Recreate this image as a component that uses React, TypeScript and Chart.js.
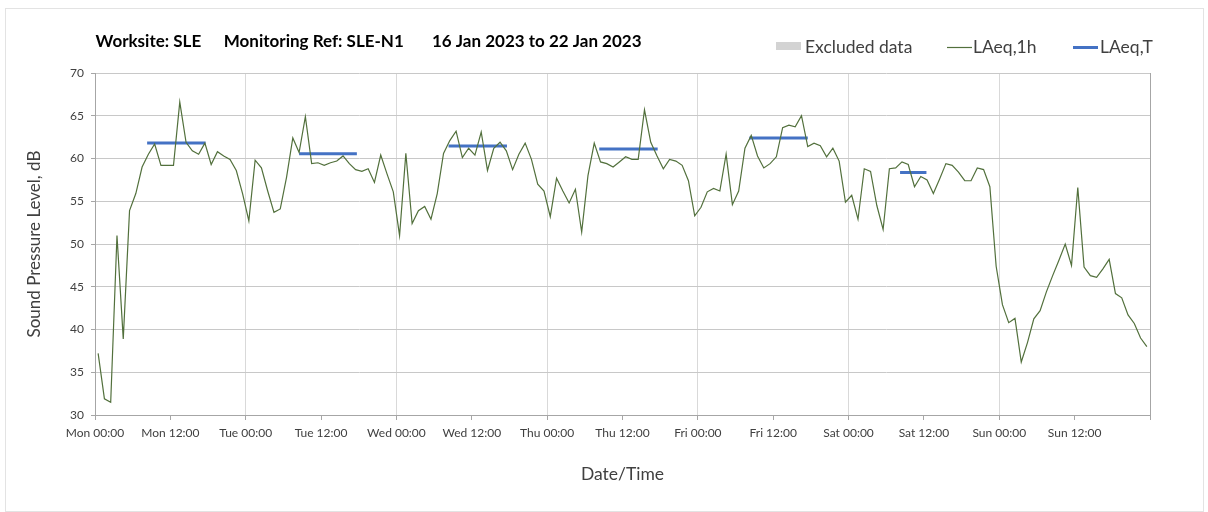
import React, { useEffect, useRef } from "react";
import { Chart, registerables } from "chart.js";

Chart.register(...registerables);

// ---- data ----
const dayNames = ["Mon", "Tue", "Wed", "Thu", "Fri", "Sat", "Sun"];

// hourly LAeq,1h values, Mon 00:00 .. Sun 23:00 (168 hours)
const laeq1h = [
  37.2, 31.9, 31.5, 51.0, 38.9, 53.9, 55.9, 59.0, 60.5, 61.7, 59.2, 59.2, 59.2, 66.6, 61.9, 60.9, 60.5, 61.8, 59.3, 60.8, 60.3, 59.9, 58.6, 55.9,
  52.7, 59.8, 58.9, 56.2, 53.7, 54.1, 57.8, 62.4, 60.7, 64.9, 59.4, 59.5, 59.2, 59.5, 59.7, 60.3, 59.4, 58.7, 58.5, 58.8, 57.2, 60.4, 58.2, 56.1,
  51.0, 60.6, 52.4, 53.9, 54.4, 52.9, 55.9, 60.6, 62.1, 63.2, 60.1, 61.2, 60.4, 63.1, 58.6, 61.2, 61.9, 60.9, 58.7, 60.5, 61.8, 59.9, 57.0, 56.2,
  53.2, 57.7, 56.2, 54.8, 56.4, 51.4, 58.0, 61.8, 59.6, 59.4, 59.0, 59.6, 60.2, 59.9, 59.9, 65.7, 61.9, 60.3, 58.8, 59.9, 59.7, 59.2, 57.4, 53.3,
  54.3, 56.1, 56.5, 56.2, 60.5, 54.6, 56.2, 61.2, 62.7, 60.3, 58.9, 59.4, 60.2, 63.6, 63.9, 63.7, 65.0, 61.4, 61.8, 61.5, 60.2, 61.2, 59.7, 54.9,
  55.7, 52.9, 58.8, 58.5, 54.5, 51.7, 58.8, 58.9, 59.6, 59.3, 56.7, 57.9, 57.5, 55.9, 57.6, 59.4, 59.2, 58.4, 57.4, 57.4, 58.9, 58.7, 56.7, 47.4,
  42.9, 40.8, 41.3, 36.2, 38.5, 41.25, 42.2, 44.4, 46.3, 48.1, 50.0, 47.5, 56.6, 47.3, 46.3, 46.1, 47.1, 48.2, 44.2, 43.7, 41.7, 40.7, 39.0, 38.0,
];

// LAeq,T periods (hours from Mon 00:00) and levels
const laeqTStart = [8.3, 32.5, 56.3, 80.3, 104.2, 128.2];
const laeqTEnd = [17.6, 41.7, 65.6, 89.6, 113.5, 132.4];
const laeqT = [61.8, 60.55, 61.45, 61.1, 62.4, 58.35];

const titleParts = ["Worksite: SLE", "Monitoring Ref: SLE-N1", "16 Jan 2023 to 22 Jan 2023"];
const legendLabels = ["Excluded data", "LAeq,1h", "LAeq,T"];
const xTitle = "Date/Time";
const yTitle = "Sound Pressure Level, dB";

const GREEN = "#52703c";
const BLUE = "#4472C4";
const GREY_BOX = "#d3d3d3";
const FONT = "Lato, 'Open Sans', sans-serif";

const headerPlugin = {
  id: "header",
  afterDraw(chart: any) {
    const ctx = chart.ctx as CanvasRenderingContext2D;
    ctx.save();
    // title
    ctx.fillStyle = "#000";
    ctx.font = `bold 17px ${FONT}`;
    ctx.textBaseline = "alphabetic";
    ctx.textAlign = "left";
    const titleX = [89.6, 217.8, 426];
    titleParts.forEach((t, i) => ctx.fillText(t, titleX[i], 38));

    // legend
    ctx.font = `17.5px ${FONT}`;
    // excluded data box
    ctx.fillStyle = GREY_BOX;
    ctx.fillRect(770, 33, 25, 8);
    ctx.fillStyle = "#404040";
    ctx.fillText(legendLabels[0], 799, 43.5);
    // LAeq,1h line
    ctx.strokeStyle = GREEN;
    ctx.lineWidth = 1.2;
    ctx.beginPath();
    ctx.moveTo(941, 38.5);
    ctx.lineTo(966, 38.5);
    ctx.stroke();
    ctx.fillText(legendLabels[1], 967, 43.5);
    // LAeq,T line
    ctx.strokeStyle = BLUE;
    ctx.lineWidth = 3;
    ctx.beginPath();
    ctx.moveTo(1067, 38.5);
    ctx.lineTo(1092, 38.5);
    ctx.stroke();
    ctx.fillText(legendLabels[2], 1094, 43.5);
    ctx.restore();
  },
};

export default function App() {
  const ref = useRef<HTMLCanvasElement>(null);

  useEffect(() => {
    document.body.style.margin = "0";
    if (!ref.current) return;

    const lineData = laeq1h.map((v, i) => ({ x: i + 0.5, y: v }));
    const tData: any[] = [];
    laeqT.forEach((v, i) => {
      tData.push({ x: laeqTStart[i], y: v });
      tData.push({ x: laeqTEnd[i], y: v });
      tData.push({ x: laeqTEnd[i] + 0.01, y: null });
    });

    const chart = new Chart(ref.current, {
      type: "line",
      data: {
        datasets: [
          {
            label: legendLabels[1],
            data: lineData,
            borderColor: GREEN,
            borderWidth: 1.2,
            pointRadius: 0,
            tension: 0,
            fill: false,
          },
          {
            label: legendLabels[2],
            data: tData,
            borderColor: BLUE,
            borderWidth: 3,
            pointRadius: 0,
            spanGaps: false,
            fill: false,
          },
        ],
      },
      options: {
        animation: false,
        responsive: false,
        devicePixelRatio: 1,
        layout: { padding: { top: 64, right: 53, bottom: 0, left: 15 } },
        plugins: {
          legend: { display: false },
          tooltip: { enabled: false },
          title: { display: false },
        },
        scales: {
          x: {
            type: "linear",
            min: 0,
            max: 168,
            afterBuildTicks: (axis: any) => {
              const t = [];
              for (let v = 0; v <= 168; v += 12) t.push({ value: v });
              axis.ticks = t;
            },
            ticks: {
              stepSize: 12,
              autoSkip: false,
              maxRotation: 0,
              minRotation: 0,
              padding: 6,
              color: "#404040",
              font: { family: FONT, size: 12 },
              callback: (v: any) => {
                const n = Number(v);
                if (n >= 168) return "";
                return `${dayNames[Math.floor(n / 24)]} ${n % 24 === 0 ? "00:00" : "12:00"}`;
              },
            },
            grid: {
              color: (c: any) => {
                const v = c.tick ? c.tick.value : -1;
                if (v === 0 || v === 168) return "#a6a6a6";
                return v % 24 === 0 ? "#d9d9d9" : "rgba(0,0,0,0)";
              },
              tickColor: "#a6a6a6",
              tickLength: 5,
              lineWidth: 1,
            },
            border: { color: "#a6a6a6" },
            title: {
              display: true,
              text: xTitle,
              color: "#404040",
              font: { family: FONT, size: 17.5 },
              padding: { top: 0, bottom: 26 },
            },
            afterFit: (a: any) => {
              a.height = 96;
            },
          },
          y: {
            min: 30,
            max: 70,
            ticks: {
              stepSize: 5,
              padding: 7,
              color: "#404040",
              font: { family: FONT, size: 12 },
            },
            grid: {
              color: "#c8c8c8",
              tickColor: "#a6a6a6",
              tickLength: 4,
              lineWidth: 1,
            },
            border: { color: "#a6a6a6" },
            title: {
              display: true,
              text: yTitle,
              color: "#404040",
              font: { family: FONT, size: 17 },
              padding: { top: 3, bottom: 0 },
            },
            afterFit: (a: any) => {
              a.width = 74;
            },
          },
        },
      } as any,
      plugins: [headerPlugin],
    });

    return () => chart.destroy();
  }, []);

  return (
    <div
      style={{
        position: "absolute",
        left: 5,
        top: 8,
        width: 1199,
        height: 504,
        boxSizing: "border-box",
        border: "1px solid #e3e3e3",
        background: "#fff",
      }}
    >
      <canvas ref={ref} width={1197} height={502} style={{ display: "block" }} />
    </div>
  );
}
